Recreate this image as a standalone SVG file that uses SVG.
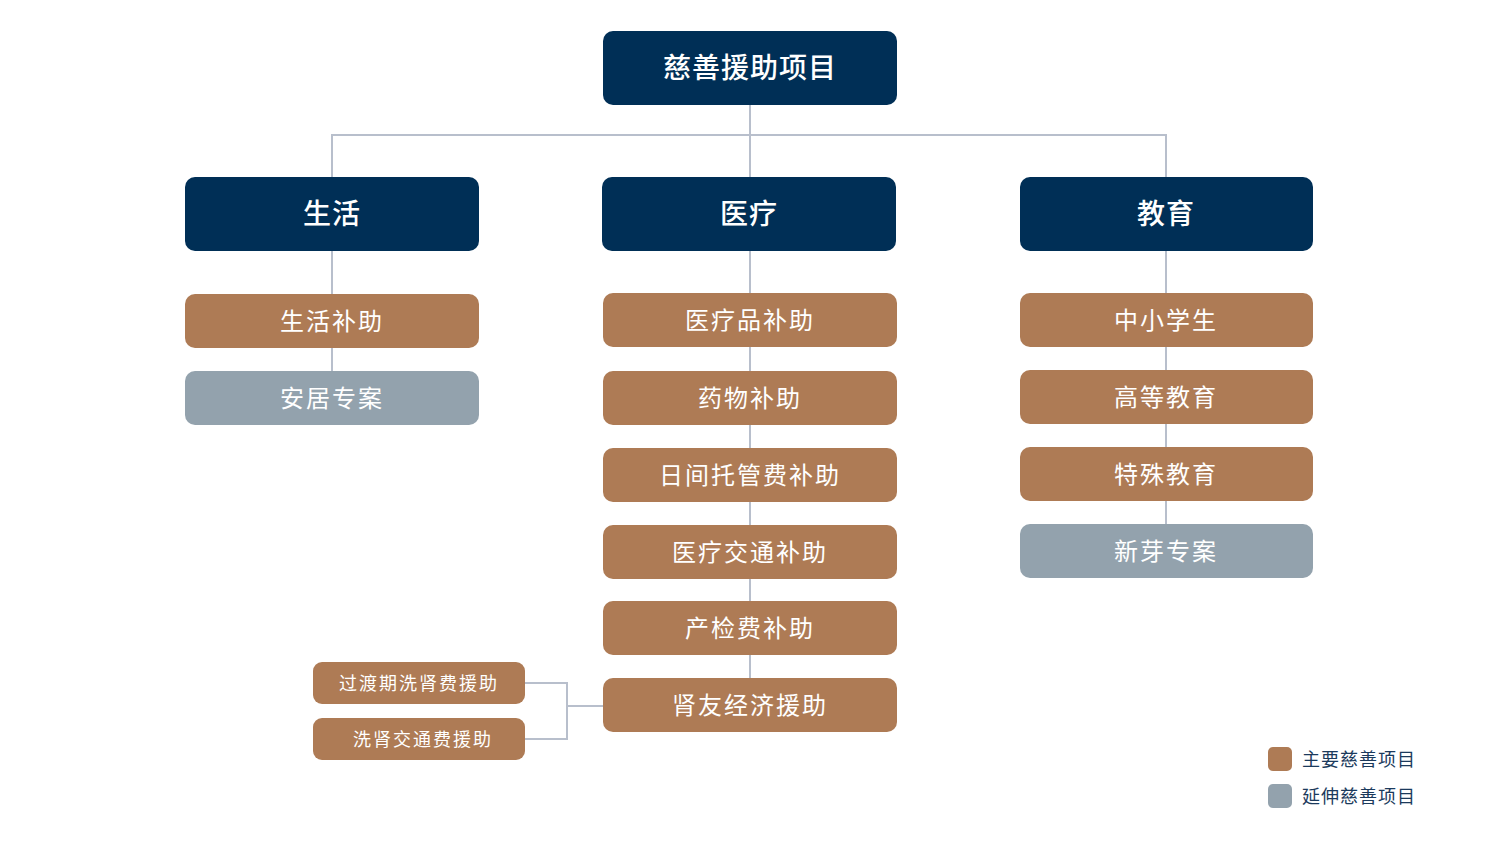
<svg xmlns="http://www.w3.org/2000/svg" width="1500" height="850" viewBox="0 0 1500 850">
<style>
text{font-family:"Noto Sans CJK SC","Noto Sans",sans-serif;text-anchor:middle;dominant-baseline:central;fill:#fff}
.navy{fill:#002F56}
.brown{fill:#AE7B55}
.gray{fill:#93A2AD}
.t1{font-size:28px;font-weight:500;letter-spacing:1px}
.t2{font-size:24px;letter-spacing:2px}
.t3{font-size:18px;letter-spacing:2px}
.leg{font-size:18px;fill:#1B3A5C;text-anchor:start;letter-spacing:1px}
.conn{stroke:#B8BFCC;stroke-width:2;fill:none}
</style>
<rect width="1500" height="850" fill="#fff"/>
<g id="connectors" class="conn">
<path d="M750 105V177M332 177V135H1166V177"/>
<path d="M332 251V371"/>
<path d="M750 251V678"/>
<path d="M1166 251V524"/>
<path d="M525 683H567V739H525M567 706H603"/>
</g>
<g id="root"><rect class="navy" x="603" y="31" width="294" height="74" rx="10"/><text class="t1" x="750" y="66">慈善援助项目</text></g>
<g id="cat-life"><rect class="navy" x="185" y="177" width="294" height="74" rx="10"/><text class="t1" x="332" y="212">生活</text></g>
<g id="cat-med"><rect class="navy" x="602" y="177" width="294" height="74" rx="10"/><text class="t1" x="749" y="212">医疗</text></g>
<g id="cat-edu"><rect class="navy" x="1020" y="177" width="293" height="74" rx="10"/><text class="t1" x="1166" y="212">教育</text></g>
<g id="life1"><rect class="brown" x="185" y="294" width="294" height="54" rx="10"/><text class="t2" x="332" y="319">生活补助</text></g>
<g id="life2"><rect class="gray" x="185" y="371" width="294" height="54" rx="10"/><text class="t2" x="332" y="396">安居专案</text></g>
<g id="med1"><rect class="brown" x="603" y="293" width="294" height="54" rx="10"/><text class="t2" x="750" y="318">医疗品补助</text></g>
<g id="med2"><rect class="brown" x="603" y="371" width="294" height="54" rx="10"/><text class="t2" x="750" y="396">药物补助</text></g>
<g id="med3"><rect class="brown" x="603" y="448" width="294" height="54" rx="10"/><text class="t2" x="750" y="473">日间托管费补助</text></g>
<g id="med4"><rect class="brown" x="603" y="525" width="294" height="54" rx="10"/><text class="t2" x="750" y="550">医疗交通补助</text></g>
<g id="med5"><rect class="brown" x="603" y="601" width="294" height="54" rx="10"/><text class="t2" x="750" y="626">产检费补助</text></g>
<g id="med6"><rect class="brown" x="603" y="678" width="294" height="54" rx="10"/><text class="t2" x="750" y="703">肾友经济援助</text></g>
<g id="med6a"><rect class="brown" x="313" y="662" width="212" height="42" rx="9"/><text class="t3" x="419" y="682">过渡期洗肾费援助</text></g>
<g id="med6b"><rect class="brown" x="313" y="718" width="212" height="42" rx="9"/><text class="t3" x="423" y="738">洗肾交通费援助</text></g>
<g id="edu1"><rect class="brown" x="1020" y="293" width="293" height="54" rx="10"/><text class="t2" x="1166" y="318">中小学生</text></g>
<g id="edu2"><rect class="brown" x="1020" y="370" width="293" height="54" rx="10"/><text class="t2" x="1166" y="395">高等教育</text></g>
<g id="edu3"><rect class="brown" x="1020" y="447" width="293" height="54" rx="10"/><text class="t2" x="1166" y="472">特殊教育</text></g>
<g id="edu4"><rect class="gray" x="1020" y="524" width="293" height="54" rx="10"/><text class="t2" x="1166" y="549">新芽专案</text></g>
<g id="legend">
<rect class="brown" x="1268" y="747" width="24" height="24" rx="5"/><text class="leg" x="1302" y="758">主要慈善项目</text>
<rect class="gray" x="1268" y="784" width="24" height="24" rx="5"/><text class="leg" x="1302" y="795">延伸慈善项目</text>
</g>
</svg>
